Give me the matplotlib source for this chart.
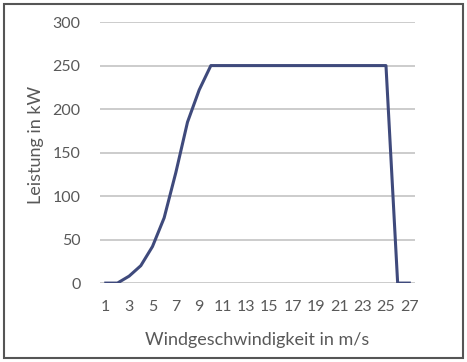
import matplotlib
matplotlib.use("Agg")
import matplotlib.pyplot as plt
from matplotlib.patches import Rectangle

# wind speed (m/s) and power (kW)
wind = list(range(1, 28))
power = [0, 0, 8, 20, 42, 75, 127, 185, 222, 250,
         250, 250, 250, 250, 250, 250, 250, 250, 250, 250,
         250, 250, 250, 250, 250, 0, 0]
xticks = list(range(1, 28, 2))
yticks = [0, 50, 100, 150, 200, 250, 300]

plt.rcParams['font.family'] = ['Lato', 'DejaVu Sans']
text_col = "#595959"

fig = plt.figure(figsize=(4.67, 3.62), dpi=100)
ax = fig.add_axes([0.214, 0.218, 0.675, 0.721])

ax.plot(wind, power, color="#3f4a7c", lw=2.2, solid_joinstyle="round", zorder=3)

ax.set_xlim(0.5, 27.5)
ax.set_ylim(0, 300)
ax.set_xticks(xticks)
ax.set_yticks(yticks)
ax.yaxis.grid(True, color="#c4c4c4", lw=1.2)
ax.set_axisbelow(True)
for s in ax.spines.values():
    s.set_visible(False)
ax.tick_params(length=0, labelsize=11.5, labelcolor=text_col)
ax.tick_params(axis="x", pad=12)
ax.tick_params(axis="y", pad=14)

ax.set_xlabel("Windgeschwindigkeit in m/s", fontsize=13, color=text_col, labelpad=13)
ax.set_ylabel("Leistung in kW", fontsize=13, color=text_col)
ax.yaxis.set_label_coords(-0.178, 0.53)

fig.patches.append(Rectangle((0.008, 0.01), 0.984, 0.978, transform=fig.transFigure,
                             fill=False, ec="#555555", lw=1.5))

fig.savefig("out.png", dpi=100)
